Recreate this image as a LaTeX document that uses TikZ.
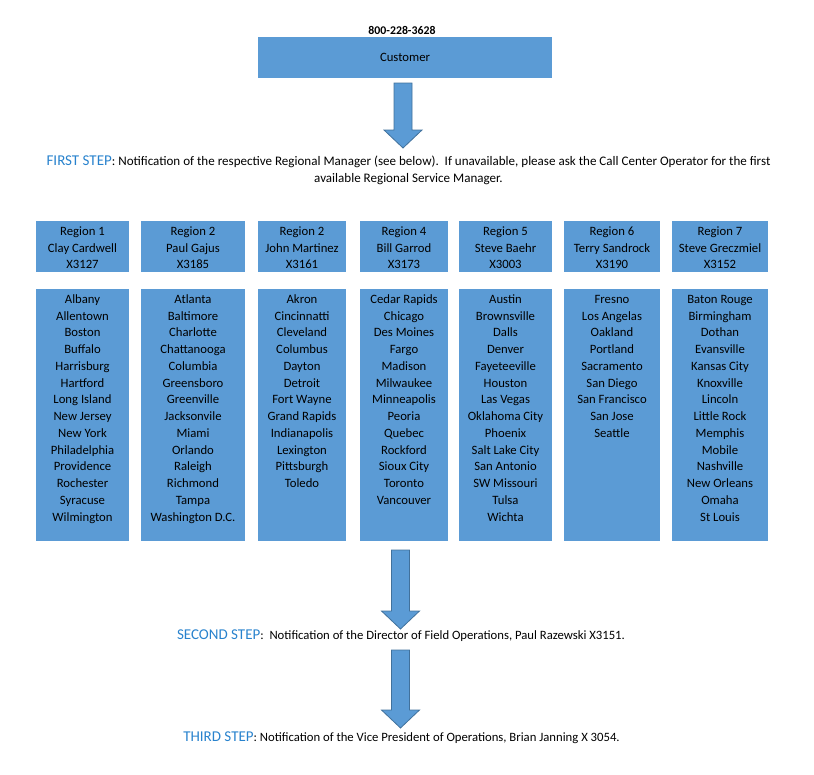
\documentclass[tikz,border=0pt]{standalone}
\usepackage{fontspec}
\setmainfont{Carlito}
\usetikzlibrary{calc,positioning}
\definecolor{boxblue}{HTML}{5B9BD5}
\definecolor{edgeblue}{HTML}{41719C}
\definecolor{stepblue}{RGB}{40,130,205}
\newcommand{\steplbl}[1]{\textcolor{stepblue}{\fontsize{15}{17}\selectfont #1}}

\begin{document}
\begin{tikzpicture}[x=1pt,y=-1pt,
      every node/.style={font=\fontsize{12.7}{16.77}\selectfont,inner sep=0pt},
      box/.style={fill=boxblue,align=center},
      bigarrow/.style={fill=boxblue,draw=edgeblue,line width=0.8pt,
        to path={let \p1=(\tikztostart),\p2=(\tikztotarget) in
          (\x1-9pt,\y1) -- (\x1+9pt,\y1) -- (\x1+9pt,\y2+18pt) -- (\x1+19pt,\y2+18pt)
          -- (\x2,\y2) -- (\x1-19pt,\y2+18pt) -- (\x1-9pt,\y2+18pt) -- cycle}}]
    \useasboundingbox (0,0) rectangle (814,774);
    \node[font=\bfseries\fontsize{11.8}{14}\selectfont] (phone) at (402,30) {800-228-3628};
    \node[box,minimum width=294,minimum height=41] (cust) at (405,57.5) {Customer};
    % Regions and their cities
    \foreach \n/\xa/\xb/\hd/\cl in {
      1/36/129/{Region 1\\Clay Cardwell\\X3127}/{Albany\\Allentown\\Boston\\Buffalo\\Harrisburg\\Hartford\\Long Island\\New Jersey\\New York\\Philadelphia\\Providence\\Rochester\\Syracuse\\Wilmington},
      2/141/245/{Region 2\\Paul Gajus\\X3185}/{Atlanta\\Baltimore\\Charlotte\\Chattanooga\\Columbia\\Greensboro\\Greenville\\Jacksonvile\\Miami\\Orlando\\Raleigh\\Richmond\\Tampa\\Washington D.C.},
      3/258/346/{Region 2\\John Martinez\\X3161}/{Akron\\Cincinnatti\\Cleveland\\Columbus\\Dayton\\Detroit\\Fort Wayne\\Grand Rapids\\Indianapolis\\Lexington\\Pittsburgh\\Toledo},
      4/360/448/{Region 4\\Bill Garrod\\X3173}/{Cedar Rapids\\Chicago\\Des Moines\\Fargo\\Madison\\Milwaukee\\Minneapolis\\Peoria\\Quebec\\Rockford\\Sioux City\\Toronto\\Vancouver},
      5/459/552/{Region 5\\Steve Baehr\\X3003}/{Austin\\Brownsville\\Dalls\\Denver\\Fayeteeville\\Houston\\Las Vegas\\Oklahoma City\\Phoenix\\Salt Lake City\\San Antonio\\SW Missouri\\Tulsa\\Wichta},
      6/564/660/{Region 6\\Terry Sandrock\\X3190}/{Fresno\\Los Angelas\\Oakland\\Portland\\Sacramento\\San Diego\\San Francisco\\San Jose\\Seattle},
      7/672/768/{Region 7\\Steve Greczmiel\\X3152}/{Baton Rouge\\Birmingham\\Dothan\\Evansville\\Kansas City\\Knoxville\\Lincoln\\Little Rock\\Memphis\\Mobile\\Nashville\\New Orleans\\Omaha\\St Louis}}{
      \node[box,minimum width=\xb-\xa,minimum height=51] (hd\n) at ({(\xa+\xb)/2},246.5) {};
      \node[align=center,font=\fontsize{12.7}{16.5}\selectfont] (hdt\n) at ([yshift=-1.2pt]hd\n.center) {\hd};
      \node[box,minimum width=\xb-\xa,minimum height=252] (cb\n) at ({(\xa+\xb)/2},415) {};
      \node[anchor=north,align=center] (cl\n) at ([yshift=-2.5pt]cb\n.north) {\strut\cl};
    }
    % Steps
    \node[align=center,font=\fontsize{13.05}{17.3}\selectfont] (s1) at (408.5,170)
      {\steplbl{FIRST STEP}: Notification of the respective Regional Manager (see below).\ \ If unavailable, please ask the Call Center Operator for the first\\available Regional Service Manager.};
    \node (s2) at (401,636) {\steplbl{SECOND STEP}:\ \ Notification of the Director of Field Operations, Paul Razewski X3151.};
    \node (s3) at (401.5,738) {\steplbl{THIRD STEP}: Notification of the Vice President of Operations, Brian Janning X 3054.};
    \coordinate (a1s) at (403,83);   \coordinate (a1e) at (403,148);
    \coordinate (a2s) at (400.5,550); \coordinate (a2e) at (400.5,629);
    \coordinate (a3s) at (400.5,650); \coordinate (a3e) at (400.5,728);
    \foreach \a/\b in {a1s/a1e,a2s/a2e,a3s/a3e}{\draw[bigarrow] (\a) to (\b);}
\end{tikzpicture}
\end{document}
